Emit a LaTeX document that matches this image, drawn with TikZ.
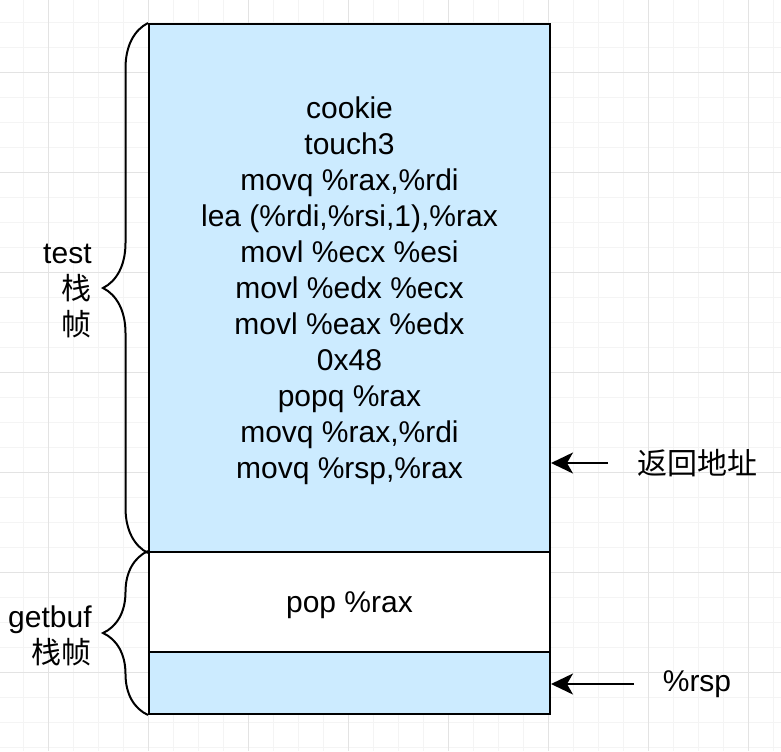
\documentclass[tikz,border=0pt]{standalone}
\usepackage{fontspec}
\setmainfont{Liberation Sans}
\newfontfamily\cjk{Noto Sans CJK SC}
\usetikzlibrary{
    positioning,
    arrows.meta,
    decorations.pathreplacing
}
\definecolor{framefill}{HTML}{CCEBFF}

\begin{document}
\begin{tikzpicture}[
    x=0.5pt, y=-0.5pt,
    font=\fontsize{15pt}{18pt}\selectfont,
    minorgrid/.style={draw=gray!9, line width=0.5pt},
    majorgrid/.style={draw=gray!22, line width=0.5pt},
    frame/.style={
        rectangle, draw=black, line width=1pt, fill=framefill,
        minimum width=200.5pt, anchor=north west, inner sep=0pt
    },
    frametext/.style={align=center, inner sep=0pt, yshift=-1.6pt},
    sidelabel/.style={align=right, anchor=east, inner sep=0pt},
    ptrlabel/.style={inner sep=0pt},
    stackbrace/.style={
        decorate, line width=1pt,
        decoration={brace, amplitude=22.5pt}
    },
    arr/.style={-{Stealth[length=11pt, width=10.5pt, inset=3pt]}, line width=1pt}
]
\useasboundingbox (0,0) rectangle (781,751);

% background grid
\foreach \gx in {23,48,...,773} \draw[minorgrid] (\gx,0) -- (\gx,751);
\foreach \gy in {22,47,...,747} \draw[minorgrid] (0,\gy) -- (781,\gy);
\foreach \gx in {48,148,...,748} \draw[majorgrid] (\gx,0) -- (\gx,751);
\foreach \gy in {72,172,...,672} \draw[majorgrid] (0,\gy) -- (781,\gy);

% stack frames
\node[frame, minimum height=264pt] (test) at (148,23) {};
\node[frame, fill=white, minimum height=50pt] (popblk) at (148,551) {};
\node[frame, minimum height=31pt] (rspblk) at (148,651) {};
\node[frametext] (testtext) at (test.center)
    {cookie\\ touch3\\ movq \%rax,\%rdi\\ lea (\%rdi,\%rsi,1),\%rax\\
     movl \%ecx \%esi\\ movl \%edx \%ecx\\ movl \%eax \%edx\\ 0x48\\
     popq \%rax\\ movq \%rax,\%rdi\\ movq \%rsp,\%rax};
\node[frametext] (poptext) at (popblk.center) {pop \%rax};

% braces and frame names
\draw[stackbrace] (test.south west) -- (test.north west);
\draw[stackbrace] (rspblk.south west) -- (popblk.north west);
\node[sidelabel] (testlbl) at (92,291.5) {test\\ {\cjk 栈}\\ {\cjk 帧}};
\node[sidelabel] (getbuflbl) at (92,636) {getbuf\\ {\cjk 栈帧}};

% pointers
\node[ptrlabel] (retlbl) at (697,463) {\cjk 返回地址};
\node[ptrlabel] (rsplbl) at (697,684) {\%rsp};
\coordinate (retfrom) at (608,463);
\coordinate (rspfrom) at (634,684);
\draw[arr] (retfrom) -- (retfrom -| test.east);
\draw[arr] (rspfrom) -- (rspfrom -| rspblk.east);

\end{tikzpicture}
\end{document}
